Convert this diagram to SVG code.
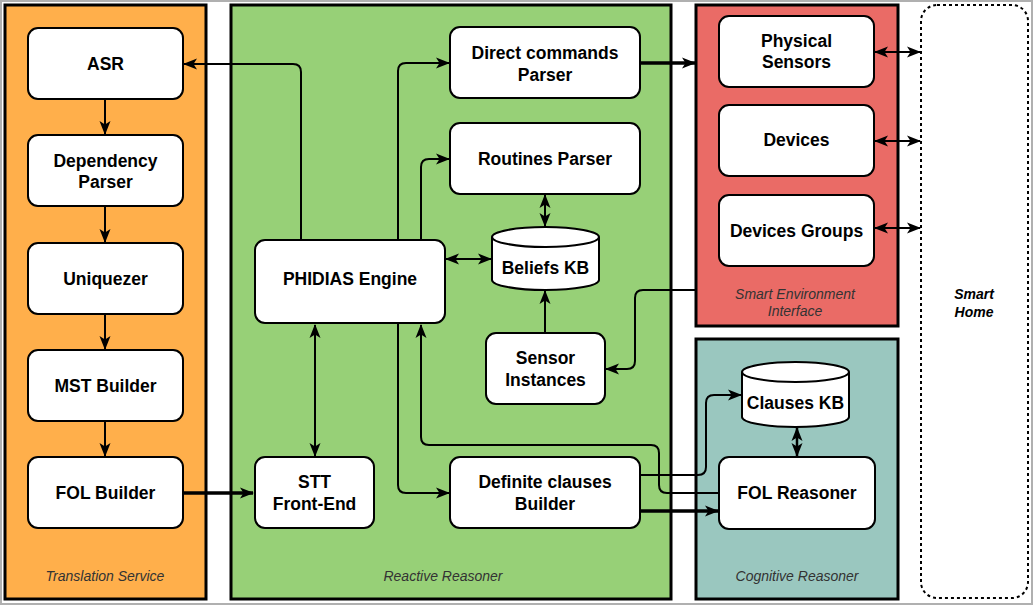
<svg xmlns="http://www.w3.org/2000/svg" width="1034" height="606" viewBox="0 0 1034 606">
<defs>
<marker id="ah" markerUnits="userSpaceOnUse" markerWidth="16" markerHeight="14" viewBox="0 0 16 14" refX="14" refY="7" orient="auto-start-reverse">
<path d="M1,1.5 L15,7 L1,12.5 L4.5,7 Z" fill="#000"/>
</marker>
</defs>
<style>
.box{fill:#fff;stroke:#000;stroke-width:2}
.cont{stroke:#000;stroke-width:3}
.lbl{font-family:"Liberation Sans",Arial,sans-serif;font-weight:bold;font-size:17.5px;fill:#000;text-anchor:middle}
.grp{font-family:"Liberation Sans",Arial,sans-serif;font-style:italic;font-size:14px;fill:#333;text-anchor:middle}
.c{fill:none;stroke:#000;stroke-width:2}
.t{fill:none;stroke:#000;stroke-width:3.5}
</style>
<rect x="0" y="0" width="1034" height="606" fill="#fff"/>
<rect x="1" y="1" width="1031" height="603" fill="none" stroke="#b0b0b0" stroke-width="2"/>

<g id="containers">
<rect id="translation-service" class="cont" x="5" y="5" width="201" height="594" fill="#FFAF4B"/>
<rect id="reactive-reasoner" class="cont" x="231" y="5" width="440" height="594" fill="#97D077"/>
<rect id="smart-env" class="cont" x="696" y="5" width="202" height="321" fill="#EA6B66"/>
<rect id="cognitive-reasoner" class="cont" x="696" y="339" width="202" height="260" fill="#9AC7BF"/>
<rect id="smart-home" x="921" y="5" width="107" height="593" rx="16" fill="#fff" stroke="#000" stroke-width="2" stroke-dasharray="3 3"/>
<text class="grp" x="105" y="581">Translation Service</text>
<text class="grp" x="443" y="581">Reactive Reasoner</text>
<text class="grp" x="795" y="299">Smart Environment</text>
<text class="grp" x="795" y="316">Interface</text>
<text class="grp" x="797" y="581">Cognitive Reasoner</text>
<text class="grp" x="974" y="299" style="font-weight:bold;fill:#000">Smart</text>
<text class="grp" x="974" y="316.5" style="font-weight:bold;fill:#000">Home</text>
</g>

<g id="connectors">
<path class="c" d="M301,240 V72 Q301,64 293,64 H184" marker-end="url(#ah)"/>
<path class="c" d="M105,99 V134" marker-end="url(#ah)"/>
<path class="c" d="M105,206 V242" marker-end="url(#ah)"/>
<path class="c" d="M105,314 V349" marker-end="url(#ah)"/>
<path class="c" d="M105,421 V456" marker-end="url(#ah)"/>
<path class="t" d="M183,493 H253" marker-end="url(#ah)"/>
<path class="c" d="M315,325 V456" marker-start="url(#ah)" marker-end="url(#ah)"/>
<path class="c" d="M398,240 V71 Q398,63 406,63 H449" marker-end="url(#ah)"/>
<path class="c" d="M421,240 V167 Q421,159 429,159 H449" marker-end="url(#ah)"/>
<path class="c" d="M446,259 H491" marker-start="url(#ah)" marker-end="url(#ah)"/>
<path class="c" d="M545,195 V226" marker-start="url(#ah)" marker-end="url(#ah)"/>
<path class="c" d="M545,333 V291" marker-end="url(#ah)"/>
<path class="c" d="M696,290 H643 Q635,290 635,298 V361 Q635,369 627,369 H606" marker-end="url(#ah)"/>
<path class="t" d="M641,63 H695" marker-end="url(#ah)"/>
<path class="c" d="M875,52 H920" marker-start="url(#ah)" marker-end="url(#ah)"/>
<path class="c" d="M875,141 H920" marker-start="url(#ah)" marker-end="url(#ah)"/>
<path class="c" d="M875,228 H920" marker-start="url(#ah)" marker-end="url(#ah)"/>
<path class="c" d="M398,324 V485 Q398,493 406,493 H449" marker-end="url(#ah)"/>
<path class="c" d="M719,493 H667 Q659,493 659,485 V453 Q659,445 651,445 H429 Q421,445 421,437 V325" marker-end="url(#ah)"/>
<path class="c" d="M641,475 H698 Q706,475 706,467 V403 Q706,395 714,395 H741" marker-end="url(#ah)"/>
<path class="t" d="M641,511 H718" marker-end="url(#ah)"/>
<path class="c" style="stroke-width:2.5" d="M797,428 V456" marker-start="url(#ah)" marker-end="url(#ah)"/>
</g>

<g id="asr"><rect class="box" x="28" y="28" width="155" height="71" rx="10"/><text class="lbl" x="105.5" y="70">ASR</text></g>
<g id="dependency-parser"><rect class="box" x="28" y="135" width="155" height="71" rx="10"/><text class="lbl" x="105.5" y="167">Dependency</text><text class="lbl" x="105.5" y="187.5">Parser</text></g>
<g id="uniquezer"><rect class="box" x="28" y="243" width="155" height="71" rx="10"/><text class="lbl" x="105.5" y="285">Uniquezer</text></g>
<g id="mst-builder"><rect class="box" x="28" y="350" width="155" height="71" rx="10"/><text class="lbl" x="105.5" y="392">MST Builder</text></g>
<g id="fol-builder"><rect class="box" x="28" y="457" width="155" height="71" rx="10"/><text class="lbl" x="105.5" y="499">FOL Builder</text></g>

<g id="direct-commands-parser"><rect class="box" x="450" y="27" width="190" height="71" rx="10"/><text class="lbl" x="545" y="59">Direct commands</text><text class="lbl" x="545" y="81">Parser</text></g>
<g id="routines-parser"><rect class="box" x="450" y="123" width="190" height="71" rx="10"/><text class="lbl" x="545" y="165">Routines Parser</text></g>
<g id="phidias-engine"><rect class="box" x="255" y="240" width="190" height="83" rx="10"/><text class="lbl" x="350" y="285">PHIDIAS Engine</text></g>
<g id="beliefs-kb"><path class="box" d="M492,237 A53.5,10 0 0 1 599,237 V280 A53.5,10 0 0 1 492,280 Z"/><path class="box" style="fill:none" d="M492,237 A53.5,10 0 0 0 599,237"/><text class="lbl" x="545.5" y="274">Beliefs KB</text></g>
<g id="sensor-instances"><rect class="box" x="486" y="333" width="119" height="71" rx="10"/><text class="lbl" x="545.5" y="364">Sensor</text><text class="lbl" x="545.5" y="386">Instances</text></g>
<g id="stt-front-end"><rect class="box" x="255" y="457" width="119" height="71" rx="10"/><text class="lbl" x="314.5" y="488">STT</text><text class="lbl" x="314.5" y="510">Front-End</text></g>
<g id="definite-clauses-builder"><rect class="box" x="450" y="457" width="190" height="71" rx="10"/><text class="lbl" x="545" y="488">Definite clauses</text><text class="lbl" x="545" y="510">Builder</text></g>

<g id="physical-sensors"><rect class="box" x="719" y="16" width="155" height="71" rx="10"/><text class="lbl" x="796.5" y="47">Physical</text><text class="lbl" x="796.5" y="68">Sensors</text></g>
<g id="devices"><rect class="box" x="719" y="105" width="155" height="71" rx="10"/><text class="lbl" x="796.5" y="146">Devices</text></g>
<g id="devices-groups"><rect class="box" x="719" y="195" width="155" height="71" rx="10"/><text class="lbl" x="796.5" y="237">Devices Groups</text></g>

<g id="clauses-kb"><path class="box" d="M742,372 A53.5,10 0 0 1 849,372 V417 A53.5,10 0 0 1 742,417 Z"/><path class="box" style="fill:none" d="M742,372 A53.5,10 0 0 0 849,372"/><text class="lbl" x="795.5" y="409">Clauses KB</text></g>
<g id="fol-reasoner"><rect class="box" x="719" y="457" width="156" height="72" rx="10"/><text class="lbl" x="797" y="499">FOL Reasoner</text></g>
</svg>
